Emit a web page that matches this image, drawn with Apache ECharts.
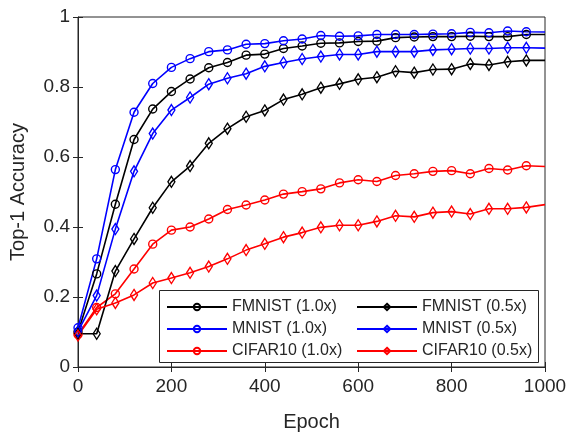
<!DOCTYPE html>
<html>
<head>
<meta charset="utf-8">
<script src="https://cdn.jsdelivr.net/npm/echarts@6/dist/echarts.min.js"></script>
<style>
  html, body { margin: 0; padding: 0; background: #fff; }
  #chart { width: 572px; height: 432px; }
</style>
</head>
<body>
<div id="chart"></div>
<script>
// Training epochs at which accuracy was recorded
const epochs = [0, 40, 80, 120, 160, 200, 240, 280, 320, 360, 400, 440, 480,
  520, 560, 600, 640, 680, 720, 760, 800, 840, 880, 920, 960, 1000];

// Top-1 accuracy per dataset and model width
const fmnistFull = [0.100, 0.266, 0.465, 0.650, 0.737, 0.787, 0.823, 0.855, 0.870, 0.891, 0.894, 0.910, 0.917,
  0.925, 0.926, 0.930, 0.931, 0.941, 0.943, 0.944, 0.944, 0.945, 0.944, 0.944, 0.950, 0.950];
const mnistFull = [0.112, 0.309, 0.564, 0.728, 0.810, 0.856, 0.881, 0.901, 0.906, 0.922, 0.924, 0.932, 0.937,
  0.947, 0.945, 0.946, 0.950, 0.950, 0.950, 0.951, 0.952, 0.956, 0.955, 0.960, 0.958, 0.957];
const cifarFull = [0.093, 0.170, 0.209, 0.280, 0.351, 0.391, 0.400, 0.423, 0.450, 0.463, 0.477, 0.494, 0.501,
  0.509, 0.526, 0.535, 0.530, 0.547, 0.552, 0.559, 0.561, 0.552, 0.567, 0.563, 0.575, 0.573];
const fmnistHalf = [0.095, 0.095, 0.274, 0.366, 0.455, 0.529, 0.574, 0.639, 0.681, 0.715, 0.733, 0.764, 0.779,
  0.798, 0.809, 0.822, 0.828, 0.845, 0.841, 0.850, 0.851, 0.866, 0.863, 0.872, 0.876, 0.876];
const mnistHalf = [0.102, 0.204, 0.394, 0.559, 0.667, 0.734, 0.770, 0.808, 0.825, 0.838, 0.859, 0.870, 0.880,
  0.887, 0.893, 0.893, 0.901, 0.901, 0.901, 0.906, 0.908, 0.910, 0.910, 0.912, 0.912, 0.911];
const cifarHalf = [0.090, 0.165, 0.183, 0.206, 0.240, 0.254, 0.269, 0.287, 0.309, 0.334, 0.352, 0.371, 0.384,
  0.399, 0.405, 0.405, 0.416, 0.432, 0.429, 0.441, 0.444, 0.437, 0.452, 0.452, 0.456, 0.464];

const xTicks = [0, 200, 400, 600, 800, 1000];
const yTicks = [0, 0.2, 0.4, 0.6, 0.8, 1];

const TEXT = '#262626';
const FONT = '"Liberation Sans", Arial, Helvetica, sans-serif';

// Markers on every recorded epoch except the final one
function pairs(values) {
  return values.map((v, i) => {
    const item = { value: [epochs[i], v] };
    if (i === values.length - 1) item.symbol = 'none';
    return item;
  });
}

function curve(name, values, color, shape) {
  const isCircle = shape === 'circle';
  return {
    name: name,
    type: 'line',
    data: pairs(values),
    symbol: isCircle ? 'circle' : 'diamond',
    symbolSize: isCircle ? 8 : [7, 11],
    showAllSymbol: true,
    lineStyle: { color: color, width: 1.6 },
    itemStyle: { color: 'rgba(255,255,255,0)', borderColor: color, borderWidth: 1.4 },
    emphasis: { disabled: true },
    animation: false,
    z: 2
  };
}

const series = [
  curve('FMNIST (1.0x)', fmnistFull, '#000000', 'circle'),
  curve('MNIST (1.0x)', mnistFull, '#0000ff', 'circle'),
  curve('CIFAR10 (1.0x)', cifarFull, '#ff0000', 'circle'),
  curve('FMNIST (0.5x)', fmnistHalf, '#000000', 'diamond'),
  curve('MNIST (0.5x)', mnistHalf, '#0000ff', 'diamond'),
  curve('CIFAR10 (0.5x)', cifarHalf, '#ff0000', 'diamond')
];

const legendBase = {
  orient: 'vertical',
  top: 299,
  padding: 0,
  itemWidth: 60,
  itemHeight: 8,
  itemGap: 6,
  textStyle: { color: TEXT, fontSize: 16, fontFamily: FONT, padding: [0, 0, 0, 0] },
  selectedMode: false,
  z: 5
};

const hiddenAxisCommon = {
  axisLine: { show: false },
  axisLabel: { show: false },
  splitLine: { show: false }
};

const chart = echarts.init(document.getElementById('chart'), null, { renderer: 'canvas' });
chart.setOption({
  backgroundColor: '#ffffff',
  animation: false,
  grid: { left: 78, right: 27, top: 17, bottom: 65, containLabel: false,
          outerBoundsMode: 'none',
          show: true, borderColor: TEXT, borderWidth: 1 },
  xAxis: [{
    type: 'value', min: 0, max: 1000, interval: 200,
    name: 'Epoch', nameLocation: 'middle', nameGap: 45,
    nameTextStyle: { color: TEXT, fontSize: 20, fontFamily: FONT },
    axisLine: { show: true, lineStyle: { color: TEXT, width: 1 } },
    axisTick: { show: true, inside: true, length: 5, lineStyle: { color: TEXT } },
    axisLabel: { color: TEXT, fontSize: 19, fontFamily: FONT, margin: 10,
      formatter: v => xTicks.includes(v) ? String(v) : '' },
    splitLine: { show: false }
  }, Object.assign({
    type: 'value', min: 0, max: 1000, interval: 200, position: 'top',
    axisTick: { show: true, inside: true, length: 5, lineStyle: { color: TEXT } }
  }, hiddenAxisCommon)],
  yAxis: [{
    type: 'value', min: 0, max: 1, interval: 0.2,
    name: 'Top-1 Accuracy', nameLocation: 'middle', nameGap: 50, nameRotate: 90,
    nameTextStyle: { color: TEXT, fontSize: 20, fontFamily: FONT },
    axisLine: { show: true, lineStyle: { color: TEXT, width: 1 } },
    axisTick: { show: true, inside: true, length: 5, lineStyle: { color: TEXT } },
    axisLabel: { color: TEXT, fontSize: 19, fontFamily: FONT, margin: 8,
      formatter: v => {
        const t = yTicks.find(k => Math.abs(k - v) < 1e-9);
        if (t === undefined) return '';
        return (t === 0 || t === 1) ? String(t) : t.toFixed(1);
      } },
    splitLine: { show: false }
  }, Object.assign({
    type: 'value', min: 0, max: 1, interval: 0.2, position: 'right',
    axisTick: { show: true, inside: true, length: 5, lineStyle: { color: TEXT } }
  }, hiddenAxisCommon)],
  legend: [
    Object.assign({}, legendBase, { left: 166, data: ['FMNIST (1.0x)', 'MNIST (1.0x)', 'CIFAR10 (1.0x)'] }),
    Object.assign({}, legendBase, { left: 356, data: ['FMNIST (0.5x)', 'MNIST (0.5x)', 'CIFAR10 (0.5x)'] })
  ],
  graphic: [{
    type: 'rect',
    shape: { x: 159.5, y: 290.5, width: 379, height: 72 },
    style: { fill: '#ffffff', stroke: TEXT, lineWidth: 1 },
    z: 3,
    silent: true
  }],
  series: series
});
</script>
</body>
</html>
